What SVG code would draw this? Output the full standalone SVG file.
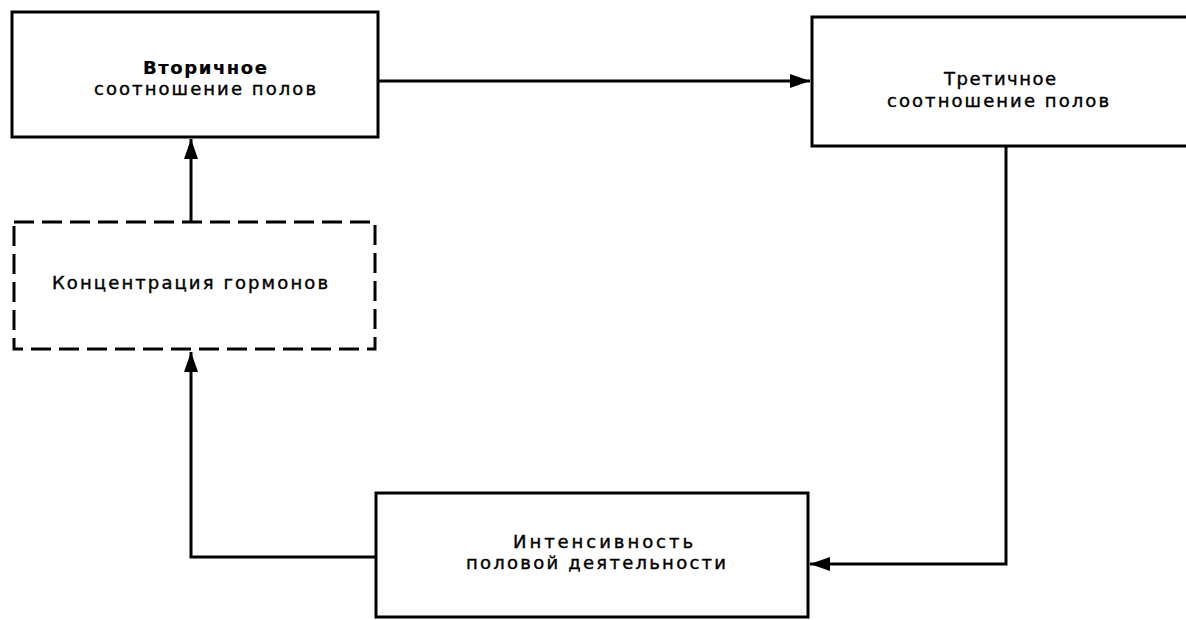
<svg xmlns="http://www.w3.org/2000/svg" width="1186" height="620" viewBox="0 0 1186 620">
<style>
.box{fill:#fff;stroke:#000;stroke-width:3}
.dash{fill:#fff;stroke:#000;stroke-width:3;stroke-dasharray:20 8}
.t{font-family:"DejaVu Sans","Liberation Sans",sans-serif;font-size:18px;fill:#000;stroke:#000;stroke-width:0.4;text-anchor:middle}
.b{font-weight:bold;stroke-width:0.2}
.c{fill:none;stroke:#000;stroke-width:3}
</style>
<defs>
<marker id="ah" viewBox="0 0 20 14" refX="20" refY="7" markerWidth="20" markerHeight="14" markerUnits="userSpaceOnUse" orient="auto">
<path d="M0,0 L20,7 L0,14 Z" fill="#000"/>
</marker>
</defs>
<rect width="1186" height="620" fill="#fff"/>
<g id="connectors">
<path class="c" d="M378,81 L810,81" marker-end="url(#ah)"/>
<path class="c" d="M191,222 L191,139" marker-end="url(#ah)"/>
<path class="c" d="M1006,147 L1006,564 L810,564" marker-end="url(#ah)"/>
<path class="c" d="M375,557 L191,557 L191,352" marker-end="url(#ah)"/>
</g>
<g id="secondary">
<rect class="box" x="12" y="12" width="366" height="125"/>
<text class="t b" x="205" y="74" textLength="124" lengthAdjust="spacing">Вторичное</text>
<text class="t" x="205" y="95" textLength="222" lengthAdjust="spacing">соотношение полов</text>
</g>
<g id="tertiary">
<rect class="box" x="812" y="17" width="390" height="129"/>
<text class="t" x="1000" y="85" textLength="112" lengthAdjust="spacing">Третичное</text>
<text class="t" x="998" y="107" textLength="222" lengthAdjust="spacing">соотношение полов</text>
</g>
<g id="hormones">
<rect class="dash" x="14" y="222" width="361" height="127"/>
<text class="t" x="190" y="289" textLength="276" lengthAdjust="spacing">Концентрация гормонов</text>
</g>
<g id="activity">
<rect class="box" x="376" y="493" width="432" height="124"/>
<text class="t" x="603" y="548" textLength="180" lengthAdjust="spacing">Интенсивность</text>
<text class="t" x="596" y="569" textLength="260" lengthAdjust="spacing">половой деятельности</text>
</g>
</svg>
